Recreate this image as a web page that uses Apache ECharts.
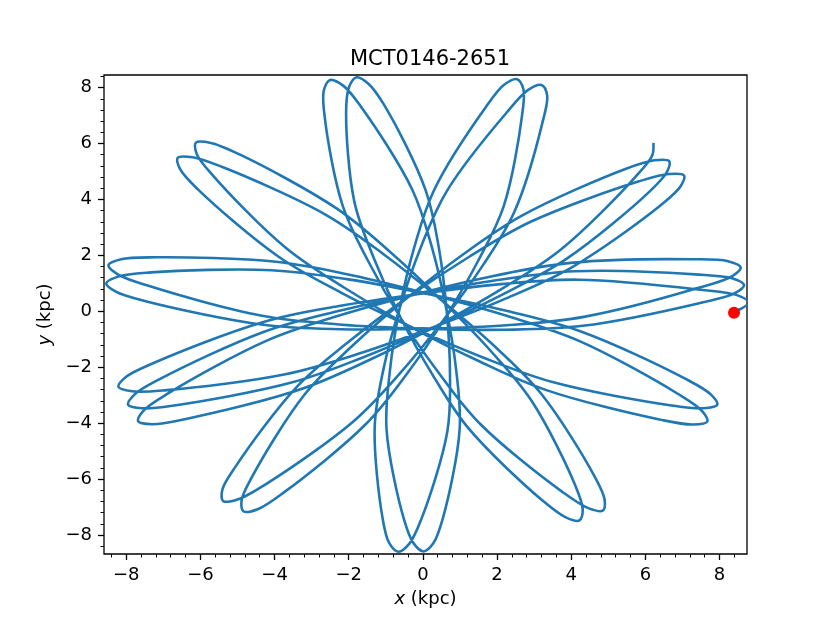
<!DOCTYPE html>
<html><head><meta charset="utf-8">
<script src="https://cdn.jsdelivr.net/npm/echarts@6/dist/echarts.min.js"></script>
<style>html,body{margin:0;padding:0;background:#fff}#c{width:830px;height:623px}</style>
</head><body><div id="c"></div>
<script>
const chartTitle = 'MCT0146-2651';
// orbit track (kpc), in the order it is traced
const orbitX = [
  8.39, 8.79, 8.49, 7.42, 4.19, 2.10, -0.11,
  -2.30, -4.32, -7.23, -8.01, -8.21, -7.84, -6.91, -3.71, -1.74, 0.28,
  2.26, 4.04, 6.42, 6.95, 7.04, 6.64, 5.83, 2.92, 1.25, -0.44,
  -2.02, -3.40, -5.03, -5.41, -5.38, -4.98, -4.21, -1.86, -0.62, 0.55,
  1.62, 2.47, 3.22, 3.35, 3.20, 2.84, 2.26, 0.64, -0.05, -0.62,
  -1.06, -1.30, -1.09, -0.91, -0.66, -0.37, -0.05, 0.66, 0.73, 0.64,
  0.43, 0.07, -1.05, -1.47, -1.79, -1.99, -2.07, -1.85, -1.32, -0.60,
  0.27, 1.22, 3.20, 3.84, 4.22, 4.31, 4.11, 2.93, 1.83, 0.51,
  -0.89, -2.32, -4.93, -5.72, -6.12, -6.10, -5.66, -3.70, -2.14, -0.38,
  1.49, 3.31, 6.38, 7.28, 7.67, 7.53, 6.86, 4.21, 2.30, 0.21,
  -1.92, -3.96, -7.21, -8.14, -8.48, -8.24, -7.40, -4.34, -2.26, -0.03,
  2.21, 4.31, 7.45, 8.40, 8.66, 8.34, 7.34, 4.10, 2.02, -0.16,
  -2.31, -4.28, -7.06, -7.78, -7.95, -7.57, -6.66, -3.52, -1.62, 0.33,
  2.22, 3.90, 6.11, 6.58, 6.64, 6.24, 5.46, 2.67, 1.09, -0.47,
  -1.93, -3.18, -4.59, -4.89, -4.83, -4.44, -3.73, -1.55, -0.45, 0.58,
  1.48, 2.18, 2.67, 2.71, 2.54, 2.19, 1.68, 0.30, -0.23, -0.63,
  -0.89, -0.98, -0.51, -0.25, 0.02, 0.28, 0.53, 0.99, 0.90, 0.63,
  0.24, -0.28, -1.65, -2.15, -2.50, -2.67, -2.65, -2.16, -1.47, -0.58,
  0.46, 1.56, 3.75, 4.46, 4.85, 4.90, 4.61, 3.19, 1.94, 0.47,
  -1.07, -2.63, -5.39, -6.21, -6.61, -6.55, -6.06, -3.88, -2.21, -0.33,
  1.62, 3.52, 6.66, 7.56, 7.94, 7.77, 7.06, 4.28, 2.31, 0.16,
  -2.01, -4.08, -7.33, -8.22, -8.54, -8.28, -7.45, -4.31, -2.22, 0.02,
  2.26, 4.34, 7.41, 8.33, 8.57, 8.23, 7.23, 3.98, 1.93, -0.21,
  -2.30, -4.21, -6.86, -7.54, -7.68, -7.30, -6.39, -3.32, -1.49, 0.37,
  2.16, 3.73, 5.72, 6.19, 6.22
];
const orbitY = [
  -0.05, 0.31, 0.57, 0.78, 1.13, 0.97, 0.62,
  0.18, -0.39, -1.83, -2.35, -2.70, -2.86, -2.82, -2.25, -1.52, -0.57,
  0.47, 1.59, 3.80, 4.47, 4.86, 4.91, 4.65, 3.21, 1.95, 0.47,
  -1.11, -2.70, -5.51, -6.39, -6.79, -6.72, -6.16, -3.92, -2.22, -0.32,
  1.65, 3.57, 6.73, 7.72, 8.09, 7.92, 7.11, 4.29, 2.31, 0.14,
  -2.05, -4.14, -7.38, -8.28, -8.60, -8.32, -7.46, -4.29, -2.19, 0.04,
  2.27, 4.34, 7.39, 8.14, 8.37, 8.03, 7.17, 3.93, 1.89, -0.23,
  -2.29, -4.17, -6.74, -7.36, -7.48, -7.10, -6.23, -3.20, -1.42, 0.39,
  2.13, 3.67, 5.60, 6.02, 6.03, 5.63, 4.85, 2.27, 0.86, -0.52,
  -1.77, -2.81, -3.87, -4.05, -3.94, -3.57, -2.94, -1.06, -0.18, 0.60,
  1.29, 1.77, 1.93, 1.86, 1.65, 1.33, 0.91, -0.16, -0.47, -0.62,
  -0.66, -0.52, 0.29, 0.64, 0.94, 1.18, 1.32, 1.43, 1.12, 0.61,
  0.00, -0.73, -2.40, -2.98, -3.34, -3.47, -3.36, -2.54, -1.65, -0.55,
  0.65, 1.90, 4.28, 4.98, 5.37, 5.40, 5.09, 3.42, 2.04, 0.43,
  -1.27, -2.96, -5.88, -6.77, -7.16, -7.07, -6.46, -4.05, -2.27, -0.28,
  1.78, 3.76, 6.97, 7.94, 8.30, 8.10, 7.27, 4.33, 2.30, 0.09,
  -2.13, -4.23, -7.44, -8.30, -8.59, -8.30, -7.44, -4.23, -2.13, 0.09,
  2.30, 4.33, 7.28, 8.07, 8.27, 7.91, 6.97, 3.76, 1.78, -0.28,
  -2.26, -4.05, -6.45, -7.04, -7.13, -6.74, -5.86, -2.95, -1.26, 0.43,
  2.05, 3.46, 5.15, 5.51, 5.49, 5.09, 4.35, 1.94, 0.67, -0.55,
  -1.65, -2.54, -3.36, -3.47, -3.34, -2.98, -2.40, -0.73, 0.00, 0.61,
  1.14, 1.47, 1.39, 1.24, 1.00, 0.70, 0.35, -0.48, -0.64, -0.62,
  -0.50, -0.20, 0.83, 1.25, 1.57, 1.79, 1.86, 1.73, 1.27, 0.60,
  -0.17, -1.05, -2.93, -3.56, -3.93, -4.04, -3.85, -2.80, -1.77, -0.52,
  0.83, 2.22, 4.79, 5.59, 6.02
];
const currentPos = [8.39, -0.05];
const xMajorTicks = [-8, -6, -4, -2, 0, 2, 4, 6, 8];
const yMajorTicks = [-8, -6, -4, -2, 0, 2, 4, 6, 8];
const xMinorTicks = [-8.4, -7.6, -7.2, -6.8, -6.4, -5.6, -5.2, -4.8, -4.4, -3.6, -3.2, -2.8, -2.4, -1.6, -1.2, -0.8, -0.4,
  0.4, 0.8, 1.2, 1.6, 2.4, 2.8, 3.2, 3.6, 4.4, 4.8, 5.2, 5.6, 6.4, 6.8, 7.2, 7.6, 8.4];
const yMinorTicks = [-8.4, -7.6, -7.2, -6.8, -6.4, -5.6, -5.2, -4.8, -4.4, -3.6, -3.2, -2.8, -2.4, -1.6, -1.2, -0.8, -0.4,
  0.4, 0.8, 1.2, 1.6, 2.4, 2.8, 3.2, 3.6, 4.4, 4.8, 5.2, 5.6, 6.4, 6.8, 7.2, 7.6, 8.4];
const xRange = [-8.60, 8.74];
const yRange = [-8.68, 8.45];

const font = 'DejaVu Sans';
const fmt = v => (v < 0 ? '\u2212' + Math.abs(v) : String(v));
const orbit = orbitX.map((x, i) => [x, orbitY[i]]);

// smooth curve through the projected track points (centripetal Catmull-Rom as cubic Beziers)
function trackPath(api) {
  const p = orbit.map(q => api.coord(q));
  const dist = (a, b) => Math.hypot(b[0] - a[0], b[1] - a[1]);
  let d = 'M' + p[0][0].toFixed(2) + ' ' + p[0][1].toFixed(2);
  for (let i = 0; i < p.length - 1; i++) {
    const p0 = p[i - 1] || p[i], p1 = p[i], p2 = p[i + 1], p3 = p[i + 2] || p[i + 1];
    const l1 = dist(p0, p1), l2 = dist(p1, p2), l3 = dist(p2, p3);
    const d1 = Math.sqrt(l1), d2 = Math.sqrt(l2), d3 = Math.sqrt(l3);
    let b1, b2;
    if (l1 < 1e-6) b1 = [p1[0] + (p2[0] - p1[0]) / 3, p1[1] + (p2[1] - p1[1]) / 3];
    else b1 = [0, 1].map(k => (l1 * p2[k] - l2 * p0[k] + (2 * l1 + 3 * d1 * d2 + l2) * p1[k]) / (3 * d1 * (d1 + d2)));
    if (l3 < 1e-6) b2 = [p2[0] - (p2[0] - p1[0]) / 3, p2[1] - (p2[1] - p1[1]) / 3];
    else b2 = [0, 1].map(k => (l3 * p1[k] - l2 * p3[k] + (2 * l3 + 3 * d3 * d2 + l2) * p2[k]) / (3 * d3 * (d3 + d2)));
    d += ' C' + b1[0].toFixed(2) + ' ' + b1[1].toFixed(2) + ' ' + b2[0].toFixed(2) + ' ' + b2[1].toFixed(2) +
         ' ' + p2[0].toFixed(2) + ' ' + p2[1].toFixed(2);
  }
  return d;
}

function mainAxis(range, ticks, name, gap) {
  return {
    type: 'value', min: range[0], max: range[1],
    splitLine: { show: false }, axisLine: { show: false, onZero: false },
    axisTick: { show: true, customValues: ticks, length: 6, lineStyle: { color: '#000', width: 1.3 } },
    axisLabel: { customValues: ticks, formatter: fmt, margin: 12, fontFamily: font, fontSize: 18, color: '#000' },
    name: name, nameLocation: 'middle', nameGap: gap,
    nameTextStyle: { fontFamily: font, fontSize: 18, color: '#000',
      rich: { i: { fontStyle: 'italic', fontFamily: font, fontSize: 18, color: '#000' } } }
  };
}
function minorAxis(range, ticks) {
  return {
    type: 'value', min: range[0], max: range[1],
    splitLine: { show: false }, axisLine: { show: false, onZero: false },
    axisTick: { show: true, customValues: ticks, length: 3.5, lineStyle: { color: '#000', width: 1 } },
    axisLabel: { show: false }
  };
}

const chart = echarts.init(document.getElementById('c'), null, { renderer: 'canvas' });
chart.setOption({
  animation: false,
  backgroundColor: '#fff',
  title: { text: chartTitle, left: 425, top: 44, textAlign: 'center',
    textStyle: { fontFamily: font, fontSize: 21, fontWeight: 'normal', color: '#000' } },
  grid: { left: 104, right: 83, top: 75, bottom: 69, show: true, borderColor: '#000', borderWidth: 1.3,
    backgroundColor: 'rgba(0,0,0,0)' },
  xAxis: [
    Object.assign(mainAxis(xRange, xMajorTicks, '{i|x} (kpc)', 36), { position: 'bottom' }),
    Object.assign(minorAxis(xRange, xMinorTicks), { position: 'bottom' })
  ],
  yAxis: [
    Object.assign(mainAxis(yRange, yMajorTicks, '{i|y} (kpc)', 48), { position: 'left' }),
    Object.assign(minorAxis(yRange, yMinorTicks), { position: 'left' })
  ],
  series: [
    { type: 'custom', coordinateSystem: 'cartesian2d', xAxisIndex: 0, yAxisIndex: 0, data: orbit,
      encode: { x: 0, y: 1 }, z: 2, silent: true,
      renderItem: function (params, api) {
        if (params.dataIndex !== 0) return null;
        const cs = params.coordSys;
        return {
          type: 'path',
          shape: { pathData: trackPath(api) },
          style: { fill: 'none', stroke: '#1f77b4', lineWidth: 2.6, lineJoin: 'round' },
          clipPath: { type: 'rect', shape: { x: cs.x, y: cs.y, width: cs.width, height: cs.height } }
        };
      } },
    { type: 'scatter', xAxisIndex: 0, yAxisIndex: 0, data: [currentPos], symbolSize: 12,
      itemStyle: { color: '#ff0000', opacity: 1 }, z: 3 }
  ]
});
</script>
</body></html>
